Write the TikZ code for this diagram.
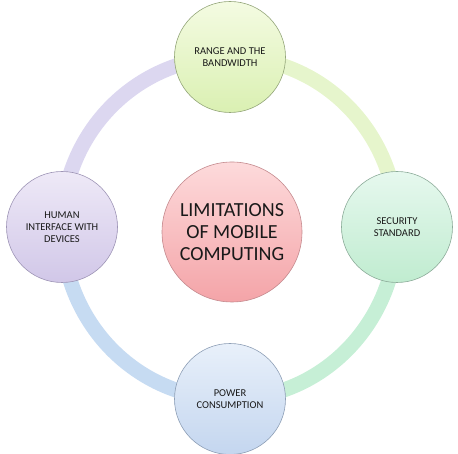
\documentclass[tikz,border=0pt]{standalone}
\usepackage{fontspec}
\setmainfont{Carlito}
\usetikzlibrary{backgrounds}

\definecolor{coreTop}{HTML}{FDDADB}
\definecolor{coreBot}{HTML}{F4A4A8}
\definecolor{coreLine}{HTML}{C48A8E}
\definecolor{rangeTop}{HTML}{F4FBE2}
\definecolor{rangeBot}{HTML}{DAF0B2}
\definecolor{rangeLine}{HTML}{94A67A}
\definecolor{secTop}{HTML}{E6F8EE}
\definecolor{secBot}{HTML}{C0ECD0}
\definecolor{secLine}{HTML}{8DAC9A}
\definecolor{powTop}{HTML}{E8F0FA}
\definecolor{powBot}{HTML}{C4D6EF}
\definecolor{powLine}{HTML}{8E9FB6}
\definecolor{humTop}{HTML}{EEE9F7}
\definecolor{humBot}{HTML}{D1C7E8}
\definecolor{humLine}{HTML}{9E95B6}
\definecolor{ringHum}{HTML}{DCD7F0}
\definecolor{ringRange}{HTML}{E6F5CC}
\definecolor{ringSec}{HTML}{C6EFD6}
\definecolor{ringPow}{HTML}{C6DBF2}

\begin{document}
\begin{tikzpicture}[x=1pt, y=1pt,
  item/.style={circle, draw, line width=0.6pt, minimum size=111pt, inner sep=0pt,
    align=center, text=black!90, font=\fontsize{10.5}{12}\selectfont},
  core/.style={item, minimum size=140pt, font=\fontsize{20}{22}\selectfont},
  ring/.style={line width=15pt}]
  \useasboundingbox (0,0) rectangle (458,454);

  \node[core, top color=coreTop, bottom color=coreBot, draw=coreLine] (core) at (232,222)
    {LIMITATIONS\\OF MOBILE\\COMPUTING};

  % outer circles
  \node[item, top color=rangeTop, bottom color=rangeBot, draw=rangeLine] (range) at (230,397)
    {RANGE AND THE\\BANDWIDTH};
  \node[item, top color=secTop, bottom color=secBot, draw=secLine] (security) at (397,227)
    {SECURITY\\STANDARD};
  \node[item, top color=powTop, bottom color=powBot, draw=powLine] (power) at (230,55)
    {POWER\\CONSUMPTION};
  \node[item, top color=humTop, bottom color=humBot, draw=humLine] (human) at (62,227)
    {HUMAN\\INTERFACE WITH\\DEVICES};

  % ring
  \begin{scope}[on background layer]
    \draw[ring, ringHum] (human.center) to[out=90, in=180] (range.center);
    \draw[ring, ringRange] (range.center) to[out=0, in=90] (security.center);
    \draw[ring, ringSec] (security.center) to[out=-90, in=0] (power.center);
    \draw[ring, ringPow] (power.center) to[out=180, in=-90] (human.center);
  \end{scope}
\end{tikzpicture}
\end{document}
